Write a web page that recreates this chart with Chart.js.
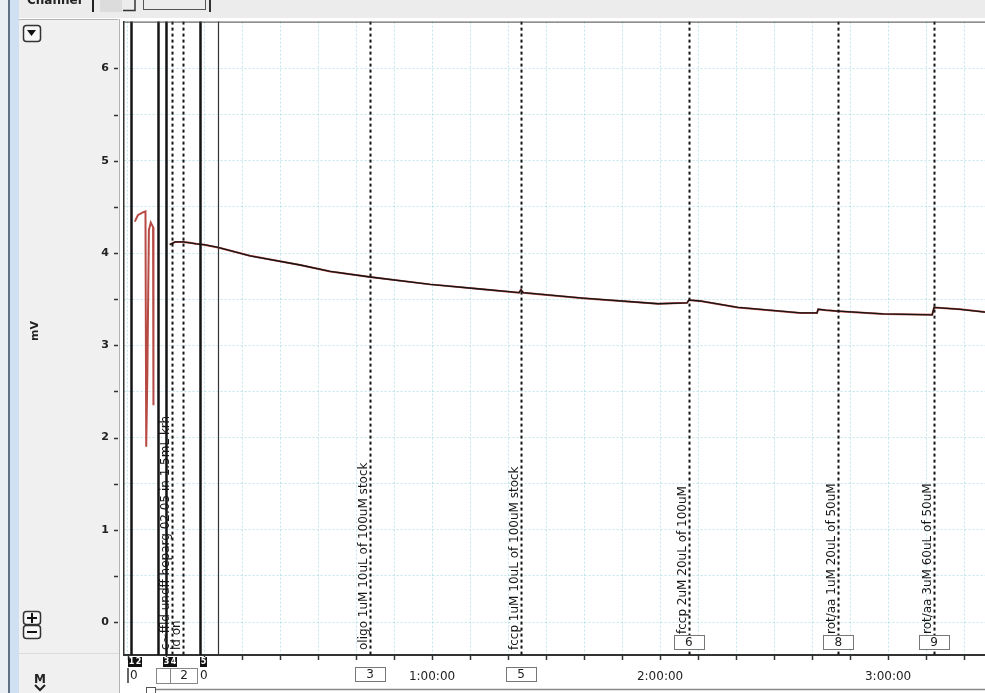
<!DOCTYPE html>
<html>
<head>
<meta charset="utf-8">
<title>mV trace</title>
<script src="https://cdn.jsdelivr.net/npm/chart.js@4.4.1/dist/chart.umd.min.js"></script>
<style>
  html, body { margin: 0; padding: 0; background: #fff; }
  #wrap { width: 985px; height: 693px; }
</style>
</head>
<body>
<div id="wrap"><canvas id="trace" width="985" height="693"></canvas></div>
<script>
'use strict';

/* Trace: time in minutes from block start (0:00:00), signal in mV.
   null = no recording (gap between the first dips and the main run). */
var traceTime = [-18.2, -17.4, -16.1, -15.4, -15.2, -14.9, -14.5, -14.0, -13.4, -13.3,
                 -11.0,
                 -9.0, -7.6, -5.5, -3.7, -2.1, 0, 3.7, 12.1, 25.3, 33.2, 43.7, 59.5,
                 72.6, 82.9, 83.4, 84.0, 99.7, 119.5, 127.1, 127.6, 130.5, 140.5,
                 156.9, 161.3, 161.6, 163.7, 166.9, 178.7, 191.6, 192.1, 199.0, 205.5];
var traceMv   = [4.34, 4.41, 4.44, 4.45, 1.90, 2.70, 4.25, 4.33, 4.28, 2.35,
                 null,
                 4.09, 4.12, 4.12, 4.11, 4.10, 4.09, 4.06, 3.97, 3.87, 3.80, 3.74, 3.66,
                 3.61, 3.57, 3.60, 3.57, 3.51, 3.45, 3.46, 3.49, 3.48, 3.41,
                 3.35, 3.35, 3.39, 3.38, 3.37, 3.34, 3.33, 3.41, 3.39, 3.36];

/* Event markers (minutes), their kind, comment text and comment number */
var markerTime = [-19.1, -12.1, -10.0, -8.4, -5.5, -1.05, 3.7, 43.7, 83.4, 127.6, 166.9, 192.1];
var markerKind = ['block', 'block', 'block', 'comment', 'comment', 'block', 'edge',
                  'comment', 'comment', 'comment', 'comment', 'comment'];
var markerText = ['', '', '', 'c~ffld undff heparg 02.05 in 1.5mL krh', 'ld on', '', '',
                  'oligo 1uM 10uL of 100uM stock', 'fccp 1uM 10uL of 100uM stock',
                  'fccp 2uM 20uL of 100uM', 'rot/aa 1uM 20uL of 50uM', 'rot/aa 3uM 60uL of 50uM'];
var markerNum  = ['', '', '', '', '', '', '', '3', '5', '6', '8', '9'];

/* Numbered block tags on the time strip */
var tagTime = [-20.0, -18.2, -10.8, -8.9, -1.05];
var tagNum  = ['1', '2', '3', '4', '5'];
var zeroTime = [-19.5, -1.05];

/* Axis ticks */
var xTicks = [-20, -10, 0, 10, 20, 30, 40, 50, 60, 70, 80, 90, 100, 110, 120,
              130, 140, 150, 160, 170, 180, 190, 200];
var hourTime = [60, 120, 180];
var hourText = ['1:00:00', '2:00:00', '3:00:00'];
var yTicks = [0, 0.5, 1, 1.5, 2, 2.5, 3, 3.5, 4, 4.5, 5, 5.5, 6];

var points = traceTime.map(function (t, i) { return { x: t, y: traceMv[i] }; });
var GRID = 'rgba(120,200,210,0.45)';
var INK = '#151515';

/* ── left panel, toolbar strip, frame ─────────────────────────── */
var panelPlugin = {
    id: 'panel',
    beforeDraw: function (chart) {
        var c = chart.ctx;
        c.save();
        c.fillStyle = '#fff';
        c.fillRect(0, 0, 985, 693);

        // window edge
        c.fillStyle = '#e9eef4'; c.fillRect(0, 0, 8, 693);
        c.fillStyle = '#5e6f86'; c.fillRect(8, 0, 2, 693);
        c.fillStyle = '#cfe0f2'; c.fillRect(10, 0, 9, 693);

        // top toolbar
        c.fillStyle = '#ececec'; c.fillRect(19, 0, 966, 18);
        c.fillStyle = '#222';
        c.font = 'bold 12px "DejaVu Sans"';
        c.textBaseline = 'alphabetic';
        c.fillText('Channel', 27, 4);
        c.fillRect(92, 0, 2, 12);
        c.fillStyle = '#dcdcdc'; c.fillRect(100, 0, 22, 12);
        c.strokeStyle = '#333'; c.lineWidth = 1.5;
        c.beginPath(); c.moveTo(123, 10.5); c.lineTo(135, 10.5); c.lineTo(135, 0); c.stroke();
        c.strokeStyle = '#555'; c.lineWidth = 1;
        c.strokeRect(143.5, -2.5, 62, 12);
        c.fillStyle = '#333'; c.fillRect(209, 0, 2, 12);

        // gray channel panel
        c.fillStyle = '#f0f0f0'; c.fillRect(19, 19, 100, 674);
        c.strokeStyle = '#b4b4b4'; c.lineWidth = 1;
        c.beginPath(); c.moveTo(19, 19.5); c.lineTo(118, 19.5); c.stroke();
        c.beginPath(); c.moveTo(119.5, 19); c.lineTo(119.5, 693); c.stroke();
        c.strokeStyle = '#dadada';
        c.beginPath(); c.moveTo(19, 653.5); c.lineTo(119, 653.5); c.stroke();

        // small buttons
        function button(x, y, w, h) {
            c.fillStyle = '#f7f7f7';
            c.strokeStyle = '#333'; c.lineWidth = 1.5;
            c.beginPath();
            c.roundRect(x + 0.5, y + 0.5, w, h, 3);
            c.fill(); c.stroke();
            c.fillStyle = '#111';
        }
        button(23, 25, 17, 16);
        c.beginPath(); c.moveTo(27, 30); c.lineTo(36, 30); c.lineTo(31.5, 36); c.closePath(); c.fill();
        button(23, 611, 17, 13);
        c.fillRect(27, 617, 10, 2); c.fillRect(31, 613, 2, 10);
        button(23, 625, 17, 13);
        c.fillRect(27, 631, 10, 2);

        // channel unit
        c.save();
        c.translate(38, 331);
        c.rotate(-Math.PI / 2);
        c.fillStyle = '#222';
        c.font = 'bold 11px "DejaVu Sans"';
        c.textAlign = 'center';
        c.fillText('mV', 0, 0);
        c.restore();

        // "M" control under the panel
        c.fillStyle = '#222';
        c.font = 'bold 12px "DejaVu Sans"';
        c.textAlign = 'center';
        c.fillText('M', 40, 683);
        c.strokeStyle = '#222'; c.lineWidth = 2;
        c.beginPath(); c.moveTo(35, 685); c.lineTo(40, 690); c.lineTo(45, 685); c.stroke();
        c.restore();
    }
};

/* ── event markers, comments, tick marks ─────────────────────── */
var markerPlugin = {
    id: 'markers',
    afterDatasetsDraw: function (chart) {
        var c = chart.ctx;
        var a = chart.chartArea;
        var xs = chart.scales.x, ys = chart.scales.y;
        c.save();

        markerTime.forEach(function (t, i) {
            var x = Math.round(xs.getPixelForValue(t)) + 0.5;
            var kind = markerKind[i];
            c.setLineDash(kind === 'comment' ? [3, 3] : []);
            c.lineWidth = kind === 'block' ? 2.5 : (kind === 'edge' ? 1.2 : 2);
            c.strokeStyle = kind === 'edge' ? '#333' : INK;
            c.beginPath(); c.moveTo(x, a.top); c.lineTo(x, a.bottom); c.stroke();
        });
        c.setLineDash([]);

        markerTime.forEach(function (t, i) {
            var text = markerText[i];
            var num = markerNum[i];
            var x = xs.getPixelForValue(t);
            var below = text.length > 26 || !num;
            if (text) {
                c.save();
                c.translate(x - 3, below ? a.bottom - 5 : a.bottom - 21);
                c.rotate(-Math.PI / 2);
                c.fillStyle = INK;
                c.font = '12px "DejaVu Sans"';
                c.textAlign = 'left';
                c.textBaseline = 'alphabetic';
                c.fillText(text, 0, 0);
                c.restore();
            }
            if (num) {
                var bw = 30, bh = 14;
                var by = below ? a.bottom + 12 : a.bottom - 20;
                c.fillStyle = '#fff';
                c.fillRect(x - bw / 2, by, bw, bh);
                c.strokeStyle = '#777'; c.lineWidth = 1;
                c.strokeRect(Math.round(x - bw / 2) + 0.5, by + 0.5, bw, bh);
                c.fillStyle = '#222';
                c.font = '12px "DejaVu Sans"';
                c.textAlign = 'center';
                c.textBaseline = 'middle';
                c.fillText(num, x, by + bh / 2 + 1);
            }
        });

        // plot frame top
        c.strokeStyle = '#444'; c.lineWidth = 1;
        c.beginPath(); c.moveTo(a.left, a.top + 0.5); c.lineTo(a.right, a.top + 0.5); c.stroke();

        // tick marks on the time strip and the mV axis
        c.strokeStyle = '#333'; c.lineWidth = 1.5;
        xTicks.forEach(function (t) {
            var x = Math.round(xs.getPixelForValue(t)) + 0.5;
            c.beginPath(); c.moveTo(x, a.bottom + 1); c.lineTo(x, a.bottom + 5); c.stroke();
        });
        yTicks.forEach(function (v) {
            var y = Math.round(ys.getPixelForValue(v)) + 0.5;
            c.beginPath(); c.moveTo(114, y); c.lineTo(118, y); c.stroke();
        });

        // block tags
        c.font = 'bold 8px "DejaVu Sans"';
        c.textAlign = 'center';
        c.textBaseline = 'middle';
        tagTime.forEach(function (t, i) {
            var x = Math.round(xs.getPixelForValue(t));
            c.fillStyle = '#111';
            c.fillRect(x, a.bottom + 2, 7, 10);
            c.fillStyle = '#fff';
            c.fillText(tagNum[i], x + 3.5, a.bottom + 7);
        });

        // block start times
        c.font = '12px "DejaVu Sans"';
        c.textAlign = 'left';
        c.fillStyle = '#222';
        zeroTime.forEach(function (t) {
            var x = Math.round(xs.getPixelForValue(t));
            c.fillText('0', x, a.bottom + 21);
        });
        c.strokeStyle = '#333'; c.lineWidth = 1.5;
        c.beginPath(); c.moveTo(128, a.bottom + 13); c.lineTo(128, a.bottom + 28); c.stroke();

        // comment "2" group box
        var bx0 = Math.round(xs.getPixelForValue(-12.6)) + 0.5;
        var bx1 = Math.round(xs.getPixelForValue(-1.8)) + 0.5;
        var bdv = Math.round(xs.getPixelForValue(-8.9)) + 0.5;
        c.strokeStyle = '#888'; c.lineWidth = 1;
        c.strokeRect(bx0, a.bottom + 13.5, bx1 - bx0, 15);
        c.beginPath(); c.moveTo(bdv, a.bottom + 13.5); c.lineTo(bdv, a.bottom + 28.5); c.stroke();
        c.textAlign = 'center';
        c.fillStyle = '#222';
        c.fillText('2', (bdv + bx1) / 2, a.bottom + 21);

        // bottom strip edge
        c.strokeStyle = '#888'; c.lineWidth = 1.5;
        c.beginPath(); c.moveTo(155, 689.5); c.lineTo(985, 689.5); c.stroke();
        c.strokeStyle = '#555'; c.lineWidth = 1;
        c.strokeRect(146.5, 687.5, 9, 8);
        c.restore();
    }
};

new Chart(document.getElementById('trace'), {
    type: 'line',
    data: {
        datasets: [{
            label: 'mV',
            data: points,
            borderColor: INK,
            borderWidth: 1.3,
            pointRadius: 0,
            tension: 0,
            spanGaps: false,
            order: 0,
            segment: {
                borderColor: function (s) { return s.p0.parsed.x < -12 ? 'rgba(0,0,0,0)' : INK; },
            },
        }, {
            label: 'raw',
            data: points,
            borderColor: '#b84a44',
            borderWidth: 2,
            pointRadius: 0,
            tension: 0,
            spanGaps: false,
            order: 1,
        }],
    },
    options: {
        responsive: false,
        animation: false,
        devicePixelRatio: 1,
        layout: { padding: { top: 20, left: 0, right: 0, bottom: 0 } },
        plugins: { legend: { display: false }, tooltip: { enabled: false } },
        scales: {
            x: {
                type: 'linear',
                min: -21.05,
                max: 205.5,
                afterFit: function (s) { s.height = 38; },
                afterBuildTicks: function (s) { s.ticks = xTicks.map(function (v) { return { value: v }; }); },
                ticks: {
                    autoSkip: false,
                    maxRotation: 0,
                    padding: 15,
                    color: '#222',
                    font: { family: 'DejaVu Sans', size: 12 },
                    callback: function (v) {
                        var k = hourTime.indexOf(v);
                        return k < 0 ? '' : hourText[k];
                    },
                },
                grid: { color: GRID, lineWidth: 1, drawTicks: false },
                border: { color: '#333', width: 2, dash: [2, 2] },
            },
            y: {
                min: -0.357,
                max: 6.508,
                afterFit: function (s) { s.width = 124; },
                afterBuildTicks: function (s) { s.ticks = yTicks.map(function (v) { return { value: v }; }); },
                ticks: {
                    padding: 15,
                    color: '#222',
                    font: { family: 'DejaVu Sans', size: 11, weight: 'bold' },
                    callback: function (v) { return v % 1 === 0 ? String(v) : ''; },
                },
                grid: { color: GRID, lineWidth: 1, drawTicks: false },
                border: { color: '#333', width: 1.5, dash: [2, 2] },
            },
        },
    },
    plugins: [panelPlugin, markerPlugin],
});
</script>
</body>
</html>
